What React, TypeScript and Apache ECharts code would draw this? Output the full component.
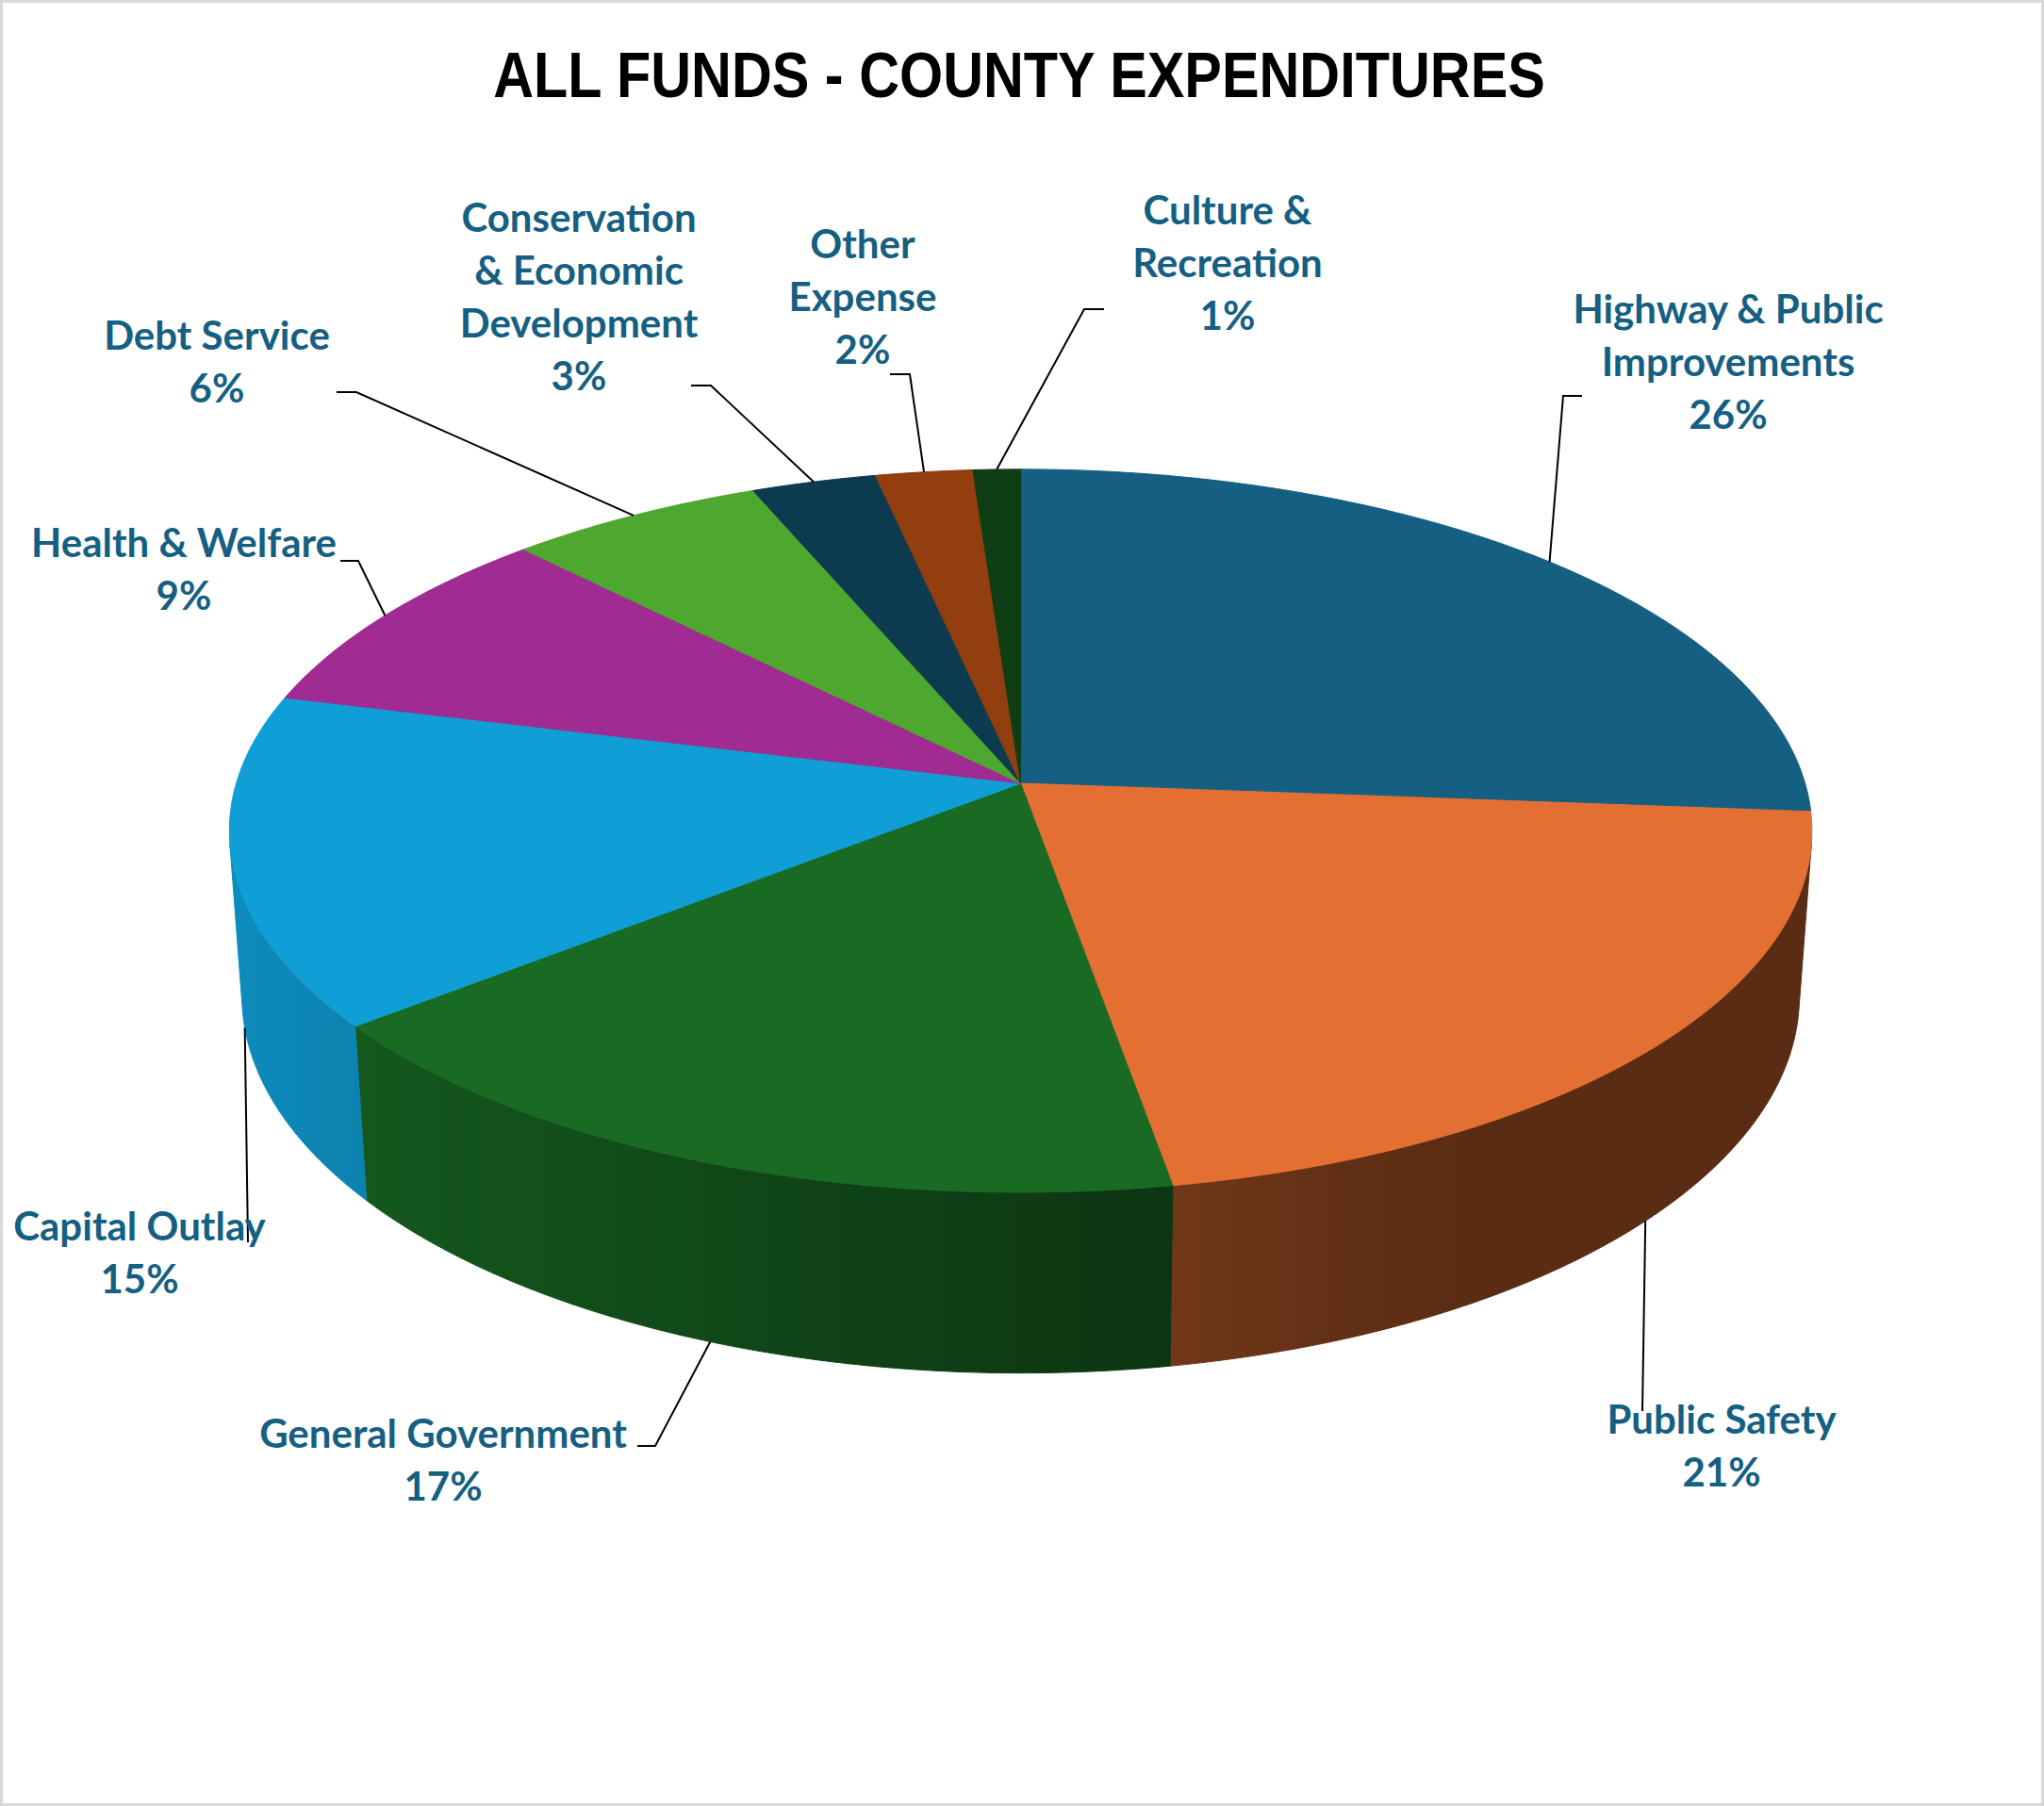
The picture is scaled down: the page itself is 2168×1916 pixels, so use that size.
import { useEffect, useRef } from 'react'
import * as echarts from 'echarts'

const TITLE = 'ALL FUNDS - COUNTY EXPENDITURES'

// slices clockwise from 12 o'clock, as Excel lays them out
const CATEGORIES = [
  'Highway & Public\nImprovements',
  'Public Safety',
  'General Government',
  'Capital Outlay',
  'Health & Welfare',
  'Debt Service',
  'Conservation\n& Economic\nDevelopment',
  'Other\nExpense',
  'Culture &\nRecreation',
]

// share of all-funds expenditures (%)
const VALUES = [26.25, 21.05, 16.9, 14.8, 8.8, 5.95, 2.9, 2.25, 1.1]

const COLORS = ['#156082', '#E46F32', '#196B24', '#0F9ED5', '#A02B93', '#4EA72E', '#0C3A4E', '#923E0F', '#0F3E15']

// label block: centre x, middle of the first line
const LABEL_POS: [number, number][] = [
  [1833, 327], [1826, 1505], [470, 1520], [148, 1300], [195, 575],
  [230, 355], [614, 230], [915, 258], [1302, 222],
]

// leader line points after the anchor on the slice rim
const LEADERS: [number, number][][] = [
  [[1658, 420], [1678, 420]],
  [[1742, 1497]],
  [[695, 1534], [676, 1534]],
  [[263, 1318]],
  [[380, 595], [361, 595]],
  [[378, 416], [357, 416]],
  [[754, 409], [733, 409]],
  [[965, 397], [944, 397]],
  [[1150, 328], [1171, 328]],
]

const LABEL_CLR = '#156082'
const FONT = 'Lato'

// 3D projection of the pie (unit radius, tilted towards the viewer, with perspective)
const CX = 1082.6, CY = 831, RPX = 832
const CAM = 6.79, SIN_A = 0.453, COS_A = 0.8915, DEPTH = 0.238
const VIS0 = Math.acos(-1 / (CAM * COS_A)) * 180 / Math.PI
const VIS1 = 360 - VIS0

function project(deg: number, level: number): [number, number] {
  const t = deg * Math.PI / 180
  const x = Math.sin(t), z = -Math.cos(t), y = -level * DEPTH
  const yUp = y * COS_A - z * SIN_A
  const d = z * COS_A + y * SIN_A
  const s = CAM / (CAM - d)
  return [CX + x * s * RPX, CY - yUp * s * RPX]
}

function shade(hex: string, f: number) {
  const n = parseInt(hex.slice(1), 16)
  const c = (v: number) => Math.min(255, Math.round(v * f))
  return `rgb(${c((n >> 16) & 255)},${c((n >> 8) & 255)},${c(n & 255)})`
}

// side walls are lit from the front-left
function wallLight(deg: number) {
  const c = Math.max(0, Math.cos((deg - 262) * 0.8 * Math.PI / 180))
  return 0.40 + 0.48 * Math.pow(c, 1.3)
}

export default function App() {
  const ref = useRef<HTMLDivElement>(null)

  useEffect(() => {
    if (!ref.current) return
    const chart = echarts.init(ref.current, null, { renderer: 'svg' })

    const total = VALUES.reduce((a, b) => a + b, 0)
    const starts: number[] = []
    const ends: number[] = []
    let acc = 0
    for (const v of VALUES) {
      starts.push(acc / total * 360)
      acc += v
      ends.push(acc / total * 360)
    }

    const renderItem = (params: any) => {
      const i = params.dataIndex
      const a0 = starts[i], a1 = ends[i]
      const children: any[] = []

      const w0 = Math.max(a0, VIS0), w1 = Math.min(a1, VIS1)
      if (w1 > w0) {
        const m = Math.max(2, Math.ceil((w1 - w0) / 0.5))
        const upper: [number, number][] = []
        const lower: [number, number][] = []
        for (let k = 0; k <= m; k++) {
          const th = w0 + (w1 - w0) * k / m
          upper.push(project(th, 0))
          lower.push(project(th, 1))
        }
        const pts = upper.concat(lower.reverse())
        const xs = pts.map(p => p[0])
        const xL = Math.min(...xs), xR = Math.max(...xs)
        const stops: { offset: number; color: string }[] = []
        for (let k = m; k >= 0; k--) {
          const th = w0 + (w1 - w0) * k / m
          const x = project(th, 0.5)[0]
          const off = Math.min(1, Math.max(0, (x - xL) / (xR - xL)))
          stops.push({ offset: off, color: shade(COLORS[i], wallLight(th)) })
        }
        stops.sort((a, b) => a.offset - b.offset)
        const fill = { type: 'linear', x: xL, y: 0, x2: xR, y2: 0, colorStops: stops, global: true }
        children.push({
          type: 'polygon', z2: 1,
          shape: { points: pts },
          style: { fill, stroke: fill, lineWidth: 1, lineJoin: 'round' },
        })
      }

      const top: [number, number][] = [[CX, CY]]
      const n = Math.max(2, Math.ceil((a1 - a0) / 0.5))
      for (let k = 0; k <= n; k++) top.push(project(a0 + (a1 - a0) * k / n, 0))
      children.push({
        type: 'polygon', z2: 5,
        shape: { points: top },
        style: { fill: COLORS[i], stroke: COLORS[i], lineWidth: 1, lineJoin: 'round' },
      })
      return { type: 'group', children }
    }

    const graphics: any[] = [
      {
        type: 'rect', z: 30, silent: true,
        shape: { x: 1.5, y: 1.5, width: 2165, height: 1913 },
        style: { fill: 'none', stroke: '#D9D9D9', lineWidth: 3 },
      },
      {
        type: 'text', x: 1081, y: 80, scaleX: 0.873, z: 20,
        style: {
          text: TITLE, fill: '#000000',
          fontFamily: '"Liberation Sans"', fontWeight: 'bold', fontSize: 68,
          align: 'center', textAlign: 'center', verticalAlign: 'middle', textVerticalAlign: 'middle',
        },
      },
    ]

    CATEGORIES.forEach((name, i) => {
      const mid = (starts[i] + ends[i]) / 2
      const anchor = project(mid, mid > 90 && mid < 270 ? 1 : 0)
      graphics.push({
        type: 'polyline', z: 10, silent: true,
        shape: { points: [anchor, ...LEADERS[i]] },
        style: { stroke: '#000000', lineWidth: 2, fill: null },
      })
      const pct = Math.round(VALUES[i] / total * 100)
      const [lx, ly] = LABEL_POS[i]
      graphics.push({
        type: 'text', x: lx, y: ly - 28, z: 20,
        style: {
          text: `${name}\n${pct}%`, fill: LABEL_CLR,
          fontFamily: FONT, fontWeight: 'bold', fontSize: 42, lineHeight: 56,
          align: 'center', textAlign: 'center', verticalAlign: 'top', textVerticalAlign: 'top',
        },
      })
    })

    chart.setOption({
      animation: false,
      backgroundColor: '#ffffff',
      series: [{
        type: 'custom',
        coordinateSystem: 'none',
        silent: true,
        data: VALUES.map((v, i) => ({ name: CATEGORIES[i], value: [i, v] })),
        renderItem,
      }],
      graphic: { elements: graphics },
    })

    return () => { chart.dispose() }
  }, [])

  return <div ref={ref} style={{ position: 'fixed', left: 0, top: 0, width: 2168, height: 1916 }} />
}
